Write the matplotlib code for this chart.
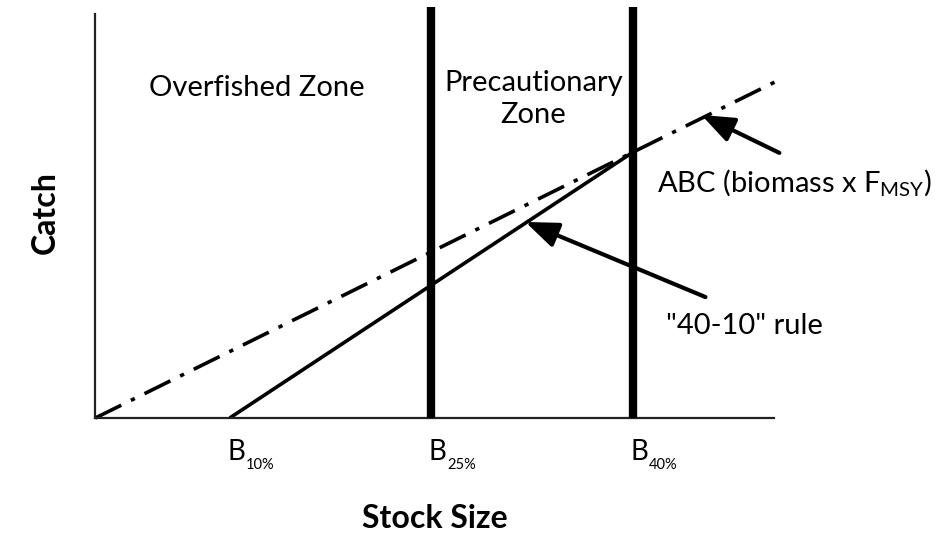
import matplotlib
matplotlib.use("Agg")
import matplotlib.pyplot as plt
import matplotlib.transforms as mtransforms

# Data (stock size as % of unfished biomass; catch in relative units)
ref_points = [10, 25, 40]
ref_subs = ["10%", "25%", "40%"]
abc_x = [0, 50.7]
abc_y = [0, 50.7]
rule_x = [10, 40]
rule_y = [0, 40]
zone_lines = [25, 40]

plt.rcParams['font.family'] = ['Lato', 'DejaVu Sans']

W, H = 948, 535
fig = plt.figure(figsize=(W / 100, H / 100), dpi=100)
left, right, bottom, top = 95.3, 774, 418, 14
ax = fig.add_axes([left / W, 1 - bottom / H, (right - left) / W, (bottom - top) / H])
ax.set_xlim(0, 50.5)
ax.set_ylim(0, 60.8)

for s in ["top", "right"]:
    ax.spines[s].set_visible(False)
for s in ["left", "bottom"]:
    ax.spines[s].set_linewidth(1.6)
    ax.spines[s].set_color("#222222")

# Zone boundaries
for xv in zone_lines:
    ax.plot([xv, xv], [0, 61.8], color="black", lw=6, solid_capstyle="butt", clip_on=False, zorder=3)

# ABC line (dash-dot)
ax.plot(abc_x, abc_y, color="black", lw=2.6, dashes=(8, 3, 1.2, 3), clip_on=False, zorder=2)
# 40-10 rule
ax.plot(rule_x, rule_y, color="black", lw=2.6, solid_capstyle="butt", zorder=2)

ax.set_xticks(ref_points)
ax.set_xticklabels([])
ax.tick_params(axis="x", length=0)
ax.set_yticks([])

# Reference point labels: B with small subscript
trans = mtransforms.blended_transform_factory(ax.transData, fig.transFigure)
for xp, sub in zip(ref_points, ref_subs):
    ax.text(xp - 0.2, 1 - 452 / H, "B", fontsize=20, ha="left", va="center", transform=trans)
    off = mtransforms.offset_copy(trans, fig=fig, x=13.5, y=-9.5, units="points")
    ax.text(xp - 0.2, 1 - 452 / H, sub, fontsize=10.5, ha="left", va="center", transform=off)

fig.text(435 / W, 1 - 518 / H, "Stock Size", fontsize=23, fontweight="bold", ha="center", va="center")
fig.text(45 / W, 1 - 213 / H, "Catch", fontsize=23, fontweight="bold", ha="center", va="center", rotation=90)

ax.text(12.0, 49.6, "Overfished Zone", fontsize=21, ha="center", va="center")
ax.text(32.6, 48.0, "Precautionary\nZone", fontsize=21, ha="center", va="center", linespacing=1.25)
ax.text(41.8, 35.3, "ABC (biomass x F$_{\\mathregular{MSY}}$)", fontsize=21, ha="left", va="center")
ax.text(42.5, 13.9, "\"40-10\" rule", fontsize=21, ha="left", va="center")

arrow = dict(arrowstyle="-|>,head_length=0.9,head_width=0.35", lw=3, color="black",
             mutation_scale=22, shrinkA=0, shrinkB=0)
ax.annotate("", xy=(45.1, 45.6), xytext=(50.9, 39.9), arrowprops=arrow, annotation_clip=False)
ax.annotate("", xy=(32.0, 29.5), xytext=(45.4, 18.2), arrowprops=arrow, annotation_clip=False)

fig.savefig("out.png", dpi=100)
